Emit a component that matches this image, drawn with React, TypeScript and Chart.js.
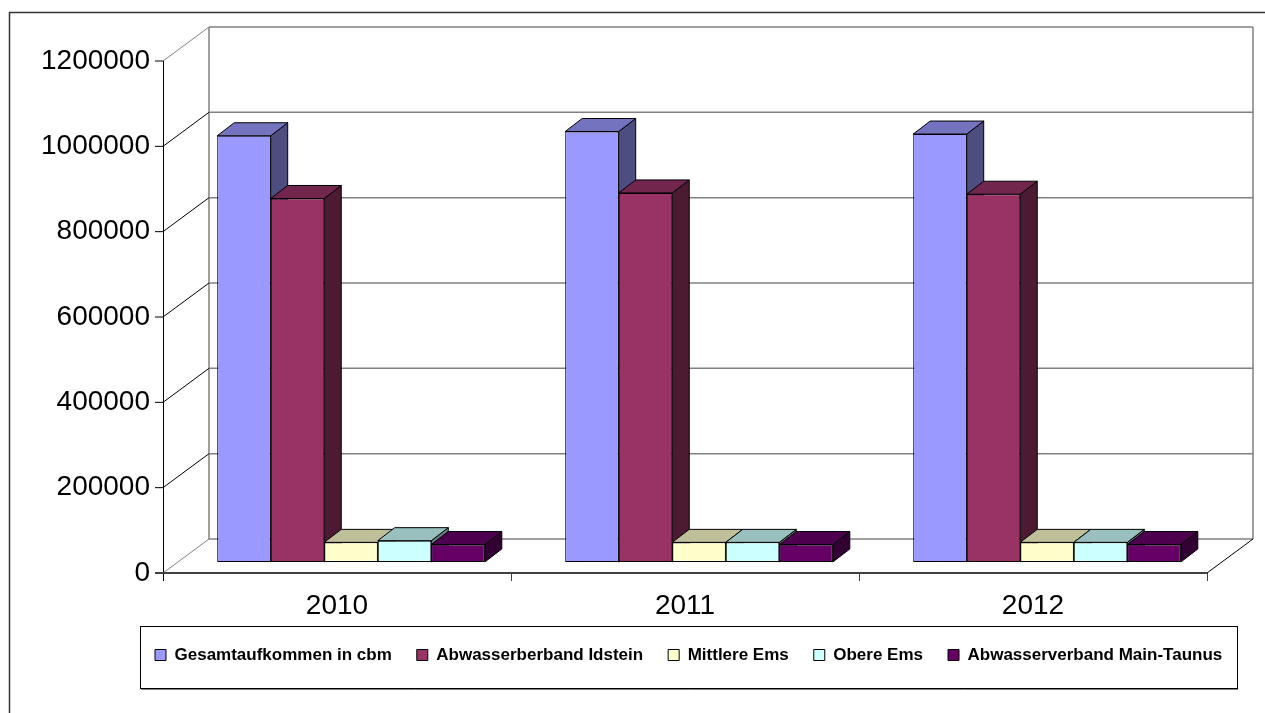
import { useEffect, useRef } from 'react';
import { Chart, registerables } from 'chart.js';

Chart.register(...registerables);

// ---- data ----
const categories = ['2010', '2011', '2012'];
const seriesNames = [
  'Gesamtaufkommen in cbm',
  'Abwasserberband Idstein',
  'Mittlere Ems',
  'Obere Ems',
  'Abwasserverband Main-Taunus',
];
const gesamtaufkommen = [999000, 1009000, 1003000];
const idstein = [852000, 865000, 862000];
const mittlereEms = [46000, 46000, 46000];
const obereEms = [50000, 46000, 46000];
const mainTaunus = [41000, 41000, 41000];
const yTickValues = [0, 200000, 400000, 600000, 800000, 1000000, 1200000];

const seriesValues = [gesamtaufkommen, idstein, mittlereEms, obereEms, mainTaunus];
const seriesColors = ['#9999FF', '#993366', '#FFFFCC', '#CCFFFF', '#660066'];

// ---- 3D geometry (oblique projection) ----
const WALL_DX = 46;
const WALL_DY = -34;
const BAR_DX = 14;
const BAR_DY = -11;
const DEPTH_DX = 17;
const DEPTH_DY = -13;
const FONT = 'Liberation Sans, Arial, sans-serif';
const Y_LABEL_WIDEST = 109; // approx. width of "1200000" at 28px

function shade(hex: string, f: number) {
  const n = parseInt(hex.slice(1), 16);
  const r = Math.round(((n >> 16) & 255) * f);
  const g = Math.round(((n >> 8) & 255) * f);
  const b = Math.round((n & 255) * f);
  return `rgb(${r},${g},${b})`;
}

function line(ctx: CanvasRenderingContext2D, x1: number, y1: number, x2: number, y2: number) {
  ctx.beginPath();
  ctx.moveTo(x1, y1);
  ctx.lineTo(x2, y2);
  ctx.stroke();
}

function poly(ctx: CanvasRenderingContext2D, pts: number[][], fill: string) {
  ctx.beginPath();
  ctx.moveTo(pts[0][0], pts[0][1]);
  for (let k = 1; k < pts.length; k++) ctx.lineTo(pts[k][0], pts[k][1]);
  ctx.closePath();
  ctx.fillStyle = fill;
  ctx.fill();
  ctx.stroke();
}

const threeD = {
  id: 'threeD',
  beforeDraw(chart: any) {
    const ctx: CanvasRenderingContext2D = chart.ctx;
    ctx.save();
    ctx.strokeStyle = '#333333';
    ctx.lineWidth = 1.5;
    ctx.beginPath();
    ctx.moveTo(9.5, chart.height + 5);
    ctx.lineTo(9.5, 12.5);
    ctx.lineTo(chart.width + 5, 12.5);
    ctx.stroke();
    ctx.restore();
  },
  beforeDatasetsDraw(chart: any) {
    const ctx: CanvasRenderingContext2D = chart.ctx;
    const a = chart.chartArea;
    const ys = chart.scales.y;
    const xs = chart.scales.x;
    const y0 = ys.getPixelForValue(0);
    const yMax = ys.getPixelForValue(yTickValues[yTickValues.length - 1]);

    ctx.save();
    // back wall gridlines
    ctx.strokeStyle = '#808080';
    ctx.lineWidth = 1.5;
    yTickValues.forEach((v) => {
      const py = ys.getPixelForValue(v) + WALL_DY;
      line(ctx, a.left + WALL_DX, py, a.right + WALL_DX, py);
    });
    // wall vertical edges
    line(ctx, a.left + WALL_DX, y0 + WALL_DY, a.left + WALL_DX, yMax + WALL_DY);
    line(ctx, a.right + WALL_DX, y0 + WALL_DY, a.right + WALL_DX, yMax + WALL_DY);
    // side wall diagonals
    ctx.lineWidth = 1;
    yTickValues.forEach((v, i) => {
      const py = ys.getPixelForValue(v);
      ctx.strokeStyle = i === 0 || i === yTickValues.length - 1 ? '#808080' : '#000000';
      line(ctx, a.left, py, a.left + WALL_DX, py + WALL_DY);
    });
    // floor right edge
    ctx.strokeStyle = '#000000';
    line(ctx, a.right, y0, a.right + WALL_DX, y0 + WALL_DY);
    // y axis line and ticks
    ctx.strokeStyle = '#000000';
    line(ctx, a.left + 0.5, yMax, a.left + 0.5, y0 + 8);
    yTickValues.forEach((v) => {
      const py = ys.getPixelForValue(v);
      line(ctx, a.left - 8, py, a.left, py);
    });
    // floor front edge
    ctx.strokeStyle = '#404040';
    ctx.lineWidth = 2;
    line(ctx, a.left - 8, y0, a.right, y0);
    // category ticks
    ctx.lineWidth = 1;
    ctx.strokeStyle = '#404040';
    const n = categories.length;
    for (let k = 1; k <= n; k++) {
      const px = k < n ? (xs.getPixelForValue(k - 1) + xs.getPixelForValue(k)) / 2 : a.right;
      line(ctx, Math.round(px) + 0.5, y0, Math.round(px) + 0.5, y0 + 8);
    }
    ctx.restore();

    // bar top & side faces
    ctx.save();
    ctx.translate(BAR_DX, BAR_DY);
    ctx.strokeStyle = '#000000';
    ctx.lineWidth = 1;
    ctx.lineJoin = 'miter';
    for (let j = 0; j < categories.length; j++) {
      for (let i = 0; i < seriesValues.length; i++) {
        const el = chart.getDatasetMeta(i).data[j];
        if (!el) continue;
        const p = el.getProps(['x', 'y', 'base', 'width'], true);
        const L = p.x - p.width / 2;
        const R = p.x + p.width / 2;
        const T = p.y;
        const B = p.base;
        poly(ctx, [[R, T], [R + DEPTH_DX, T + DEPTH_DY], [R + DEPTH_DX, B + DEPTH_DY], [R, B]], shade(seriesColors[i], 0.5));
        poly(ctx, [[L, T], [R, T], [R + DEPTH_DX, T + DEPTH_DY], [L + DEPTH_DX, T + DEPTH_DY]], shade(seriesColors[i], 0.75));
      }
    }
    ctx.restore();

    // front faces drawn by Chart.js, shifted into the bar plane
    ctx.save();
    ctx.translate(BAR_DX, BAR_DY);
  },
  afterDatasetsDraw(chart: any) {
    chart.ctx.restore();
  },
  afterDraw(chart: any) {
    const ctx: CanvasRenderingContext2D = chart.ctx;
    ctx.save();
    ctx.strokeStyle = '#000000';
    ctx.lineWidth = 1;
    ctx.strokeRect(140.5, 626.5, 1097, 62);
    ctx.strokeStyle = '#808080';
    line(ctx, 141, 689.5, 1238, 689.5);
    ctx.restore();
  },
};

export default function App() {
  const ref = useRef<HTMLCanvasElement | null>(null);

  useEffect(() => {
    if (!ref.current) return;
    const chart = new Chart(ref.current, {
      type: 'bar',
      data: {
        labels: categories,
        datasets: seriesNames.map((name, i) => ({
          label: name,
          data: seriesValues[i],
          backgroundColor: seriesColors[i],
          borderColor: '#000000',
          borderWidth: 1,
          borderSkipped: false,
          categoryPercentage: 0.769,
          barPercentage: 1,
          clip: false,
        })),
      },
      options: {
        responsive: false,
        animation: false,
        events: [],
        layout: { padding: { left: 130, right: 5, top: 61, bottom: 39.5 } },
        plugins: {
          tooltip: { enabled: false },
          legend: {
            position: 'bottom',
            align: 'start',
            labels: {
              boxWidth: 11,
              boxHeight: 11,
              padding: 25,
              color: '#000000',
              font: { family: FONT, size: 17, weight: 'bold' },
            },
          },
        },
        scales: {
          x: {
            type: 'category',
            offset: true,
            grid: { display: false, drawTicks: false },
            border: { display: false },
            ticks: {
              color: '#000000',
              padding: 16,
              maxRotation: 0,
              autoSkip: false,
              font: { family: FONT, size: 28 },
            },
            afterFit: (s: any) => {
              s.height = 48.5;
            },
          },
          y: {
            type: 'linear',
            position: 'left',
            min: 0,
            max: 1200000,
            grid: { display: false, drawTicks: false },
            border: { display: false },
            afterBuildTicks: (s: any) => {
              s.ticks = yTickValues.map((v) => ({ value: v }));
            },
            ticks: {
              color: '#000000',
              mirror: true,
              crossAlign: 'far',
              padding: -(13 + Y_LABEL_WIDEST),
              autoSkip: false,
              callback: (v: any) => String(v),
              font: { family: FONT, size: 28 },
            },
            afterFit: (s: any) => {
              s.width = 33;
            },
          },
          yR: {
            type: 'linear',
            position: 'right',
            display: true,
            min: 0,
            max: 1,
            grid: { display: false, drawTicks: false },
            border: { display: false },
            ticks: { display: false },
            afterFit: (s: any) => {
              s.width = 53;
            },
          },
        },
      },
      plugins: [threeD],
    } as any);
    return () => chart.destroy();
  }, []);

  return (
    <div style={{ position: 'fixed', left: 0, top: 0, width: 1265, height: 713, background: '#ffffff' }}>
      <canvas ref={ref} width={1265} height={713} style={{ display: 'block' }} />
    </div>
  );
}
